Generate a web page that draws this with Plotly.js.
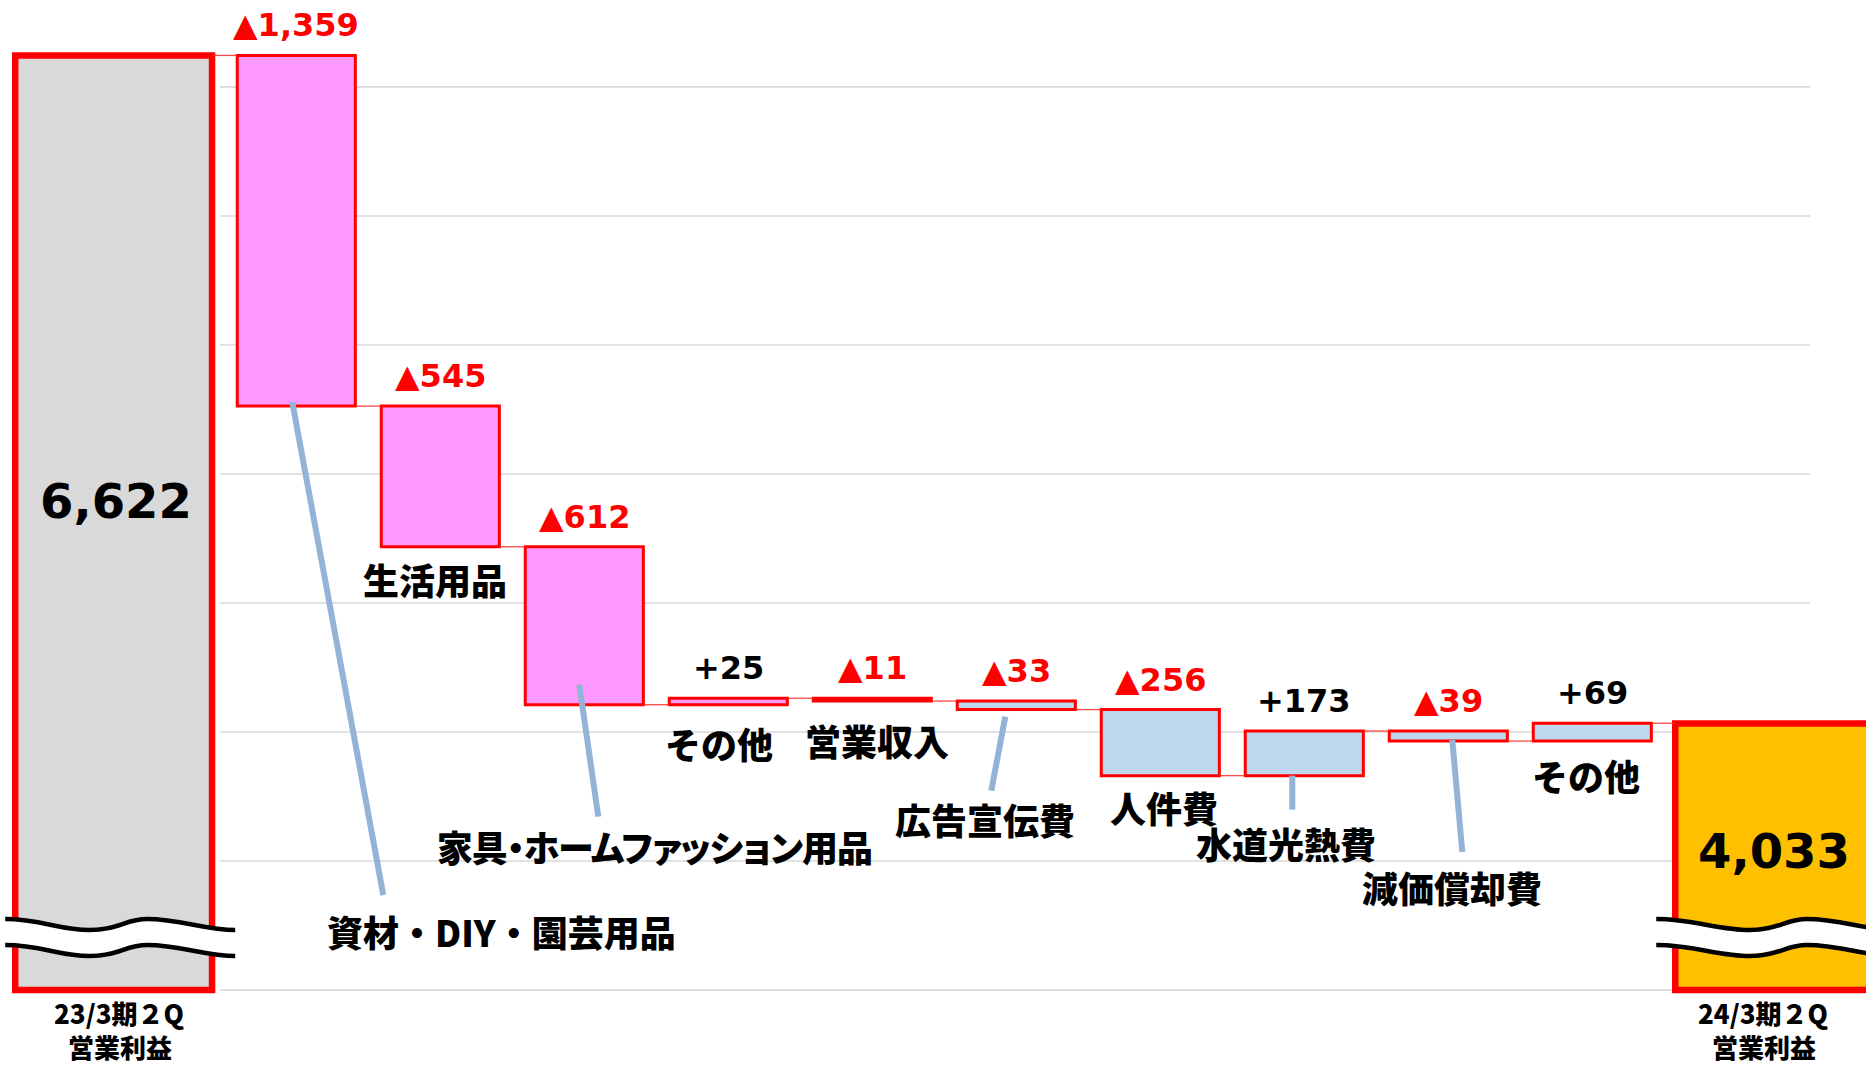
<!DOCTYPE html>
<html>
<head>
<meta charset="utf-8">
<script src="https://cdn.plot.ly/plotly-3.0.1.min.js"></script>
<style>
html,body{margin:0;padding:0;background:#ffffff;overflow:hidden;}
#chart{width:1866px;height:1065px;}
</style>
</head>
<body>
<div id="chart"></div>
<script>
// ---------------- DATA ----------------
const startLabel = ['23/3期２Q', '営業利益'];
const endLabel = ['24/3期２Q', '営業利益'];
const startValue = 6622;
const endValue = 4033;
const itemNames = ['資材・DIY・園芸用品', '生活用品', '家具・ホームファッション用品', 'その他', '営業収入',
                   '広告宣伝費', '人件費', '水道光熱費', '減価償却費', 'その他'];
const itemDeltas = [-1359, -545, -612, 25, -11, -33, -256, 173, -39, 69];
const itemGroups = ['sales', 'sales', 'sales', 'sales', 'sales', 'cost', 'cost', 'cost', 'cost', 'cost'];
const gridValues = [3000, 3500, 4000, 4500, 5000, 5500, 6000, 6500];
const axisBreak = 3000;   // value where the broken axis starts

// ---------------- STYLE / LAYOUT CONFIG ----------------
const groupColors = {sales: '#FF99FF', cost: '#BDD7EE'};
const startColor = '#D9D9D9', endColor = '#FFC000';
const red = '#FF0000';
const leaderColor = '#95B3D7';
const barW = 0.82, endW = 1.367, startOff = -0.952, endOff = -0.424;
// label offsets in pixels from (bar centre, bar bottom); leader = [x0,y0,x1,y1] px (y up)
const labelPlace = [
  {dx: 205, dy: -525, leader: [-4, 4, 87, -489]},
  {dx: -5, dy: -32},
  {dx: 70, dy: -141, leader: [-5, 20, 14, -112]},
  {dx: -9, dy: -38},
  {dx: 5, dy: -39},
  {dx: -31, dy: -109, leader: [-11, -7, -25, -81]},
  {dx: 4, dy: -31},
  {dx: -18, dy: -67, leader: [-12, 0, -12, -34]},
  {dx: 4, dy: -146, leader: [4, 1, 14, -111]},
  {dx: -6, dy: -34}
];

const NUMFONT = "'DejaVu Sans', 'Noto Sans CJK JP', sans-serif";
const JPFONT = "'Noto Sans CJK JP', 'DejaVu Sans', sans-serif";

// ---------------- BUILD ----------------
const n = itemDeltas.length;
const xs = [], bases = [], heights = [], levels = [];
xs.push(0); bases.push(axisBreak); heights.push(startValue - axisBreak); levels.push(startValue);
let run = startValue;
itemDeltas.forEach((d, i) => {
  xs.push(i + 1); bases.push(run); heights.push(d); run += d; levels.push(run);
});
xs.push(n + 1); bases.push(axisBreak); heights.push(endValue - axisBreak); levels.push(endValue);

const widths = [endW].concat(itemDeltas.map(() => barW)).concat([endW]);
const offsets = [startOff].concat(itemDeltas.map(() => -barW / 2)).concat([endOff]);
const colors = [startColor].concat(itemGroups.map(g => groupColors[g])).concat([endColor]);
const lineWidths = [6.5].concat(itemDeltas.map(() => 3)).concat([6.5]);

const barTrace = {
  type: 'bar', x: xs, y: heights, base: bases, width: widths, offset: offsets,
  marker: {color: colors, line: {color: red, width: lineWidths}},
  hoverinfo: 'skip', showlegend: false
};

// connectors
const cx = [], cy = [];
for (let i = 0; i < xs.length - 1; i++) {
  cx.push(xs[i] + offsets[i] + widths[i], xs[i + 1] + offsets[i + 1], null);
  cy.push(levels[i], levels[i], null);
}
const connTrace = {
  type: 'scatter', mode: 'lines', x: cx, y: cy,
  line: {color: 'rgba(255,40,40,0.85)', width: 1.3},
  hoverinfo: 'skip', showlegend: false, cliponaxis: false
};

const fmt = v => Math.abs(v).toLocaleString('en-US');

const annotations = [];
const shapes = [];

// gridlines
gridValues.forEach(v => {
  shapes.push({type: 'line', xref: 'paper', yref: 'y', x0: 220 / 1866, x1: 1810 / 1866, y0: v, y1: v,
    line: {color: '#D9D9D9', width: 1.6}, layer: 'below'});
});

// value labels
itemDeltas.forEach((d, i) => {
  const x = i + 1;
  const top = Math.max(bases[x], bases[x] + heights[x]);
  annotations.push({x: x, y: top, xref: 'x', yref: 'y', yanchor: 'middle', xanchor: 'center',
    yshift: 30, showarrow: false,
    text: d < 0 ? '▲' + fmt(d) : '+' + fmt(d),
    font: {family: NUMFONT, size: 32, weight: 700, color: d < 0 ? red : '#000000'}});
});

// category labels & leaders
let kaguIndex = -1;
itemNames.forEach((name, i) => {
  const x = i + 1;
  const bottom = Math.min(bases[x], bases[x] + heights[x]);
  const p = labelPlace[i];
  if (i === 2) kaguIndex = annotations.length;
  annotations.push({x: x, y: bottom, xref: 'x', yref: 'y', xanchor: 'center', yanchor: 'middle',
    xshift: p.dx, yshift: p.dy, showarrow: false, text: name,
    font: {family: JPFONT, size: 36, weight: 900, color: '#000000'}});
  if (p.leader) {
    shapes.push({type: 'line', xref: 'x', yref: 'y', xsizemode: 'pixel', ysizemode: 'pixel',
      xanchor: x, yanchor: bottom, x0: p.leader[0], y0: p.leader[1], x1: p.leader[2], y1: p.leader[3],
      line: {color: leaderColor, width: 6}, layer: 'above'});
  }
});

// big totals
annotations.push({x: xs[0] + offsets[0] + widths[0] / 2, y: (startValue + axisBreak) / 2, xref: 'x', yref: 'y',
  yshift: 22, xshift: 2, showarrow: false, text: startValue.toLocaleString('en-US'),
  font: {family: NUMFONT, size: 48, weight: 700, color: '#000000'}});
annotations.push({x: xs[n + 1] + offsets[n + 1] + widths[n + 1] / 2, y: (endValue + axisBreak) / 2, xref: 'x', yref: 'y',
  yshift: 6, showarrow: false, text: endValue.toLocaleString('en-US'),
  font: {family: NUMFONT, size: 48, weight: 700, color: '#000000'}});

// bottom labels (two stacked texts)
[[startLabel, xs[0] + offsets[0] + widths[0] / 2, 6], [endLabel, xs[n + 1] + offsets[n + 1] + widths[n + 1] / 2, -10]].forEach(([lab, x, dx]) => {
  [[lab[0], -22], [lab[1], -56]].forEach(([t, dy]) => {
    annotations.push({x: x, y: axisBreak, xref: 'x', yref: 'y', xshift: dx, yshift: dy, yanchor: 'middle',
      showarrow: false, text: t, borderpad: 0,
      font: {family: JPFONT, size: 26, weight: 900, color: '#000000'}});
  });
});

// axis break waves
function wave(x0) {
  const top = `M ${x0},71 C ${x0 + 35},71 45,60 74,60 C 103,60 110,71 132,71 C 165,71 190,60 220,60`;
  const bot = `M ${x0},45 C ${x0 + 35},45 45,34 74,34 C 103,34 110,45 132,45 C 165,45 190,34 220,34`;
  const band = `M ${x0},71 C ${x0 + 35},71 45,60 74,60 C 103,60 110,71 132,71 C 165,71 190,60 220,60 ` +
               `L 220,34 C 190,34 165,45 132,45 C 110,45 103,34 74,34 C 45,34 ${x0 + 35},45 ${x0},45 Z`;
  return [top, bot, band];
}
[[0, -10], [n + 1, -19]].forEach(([idx, x0]) => {
  const anchorX = xs[idx] + offsets[idx];
  const [top, bot, band] = wave(x0);
  shapes.push({type: 'path', xref: 'x', yref: 'y', xsizemode: 'pixel', ysizemode: 'pixel',
    xanchor: anchorX, yanchor: axisBreak, path: band, fillcolor: '#FFFFFF', line: {width: 0}, layer: 'above'});
  [top, bot].forEach(pth => shapes.push({type: 'path', xref: 'x', yref: 'y', xsizemode: 'pixel', ysizemode: 'pixel',
    xanchor: anchorX, yanchor: axisBreak, path: pth, line: {color: '#000000', width: 4.5}, layer: 'above'}));
});

const layout = {
  width: 1866, height: 1065,
  margin: {l: 0, r: 0, t: 0, b: 0, pad: 0},
  paper_bgcolor: '#FFFFFF', plot_bgcolor: '#FFFFFF',
  xaxis: {range: [-1.0576, 11.9007], visible: false, fixedrange: true},
  yaxis: {range: [2709.75, 6836.75], visible: false, fixedrange: true},
  barmode: 'overlay', showlegend: false, hovermode: false,
  annotations: annotations, shapes: shapes
};

// proportional kana for the long katakana label
const st = document.createElement('style');
st.textContent = `.annotation[data-index="${kaguIndex}"] text { font-feature-settings: "palt" 1; letter-spacing: -1px; }`;
document.head.appendChild(st);

Plotly.newPlot('chart', [barTrace, connTrace], layout, {displayModeBar: false, staticPlot: true});
</script>
</body>
</html>
